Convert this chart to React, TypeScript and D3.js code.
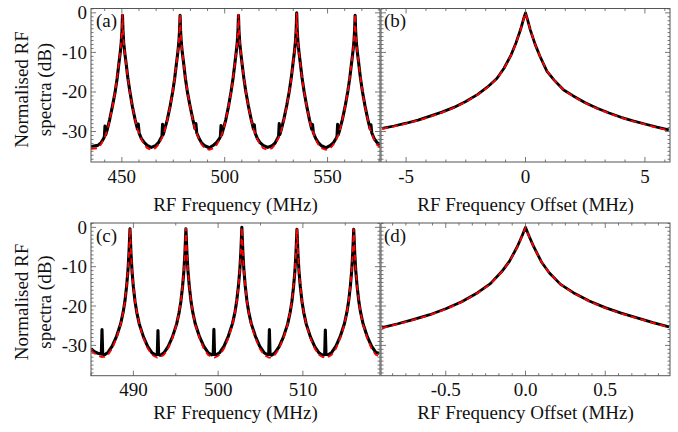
import React from "react";
import * as d3 from "d3";

// ---- panel (a): wide RF spectrum, MHz ----
const freqA = [
  435,
  438.3, 439.8, 441.1, 441.5, 441.8, 442.1, 442.8, 444.1, 445.5, 446.7, 447.7, 448.5, 449.2, 449.7, 450.05,
  450.3, 450.55, 450.9, 451.4, 452.1, 452.9, 453.9, 455.1, 456.5, 457.6, 458.0, 458.4, 459.5, 460.8, 462.3,
  464.3,
  466.3, 467.8, 469.1, 469.5, 469.8, 470.1, 470.8, 472.1, 473.5, 474.7, 475.7, 476.5, 477.2, 477.7, 478.05,
  478.3, 478.55, 478.9, 479.4, 480.1, 480.9, 481.9, 483.1, 484.5, 485.6, 486.0, 486.4, 487.5, 488.8, 490.3,
  492.5,
  494.7, 496.2, 497.5, 497.9, 498.2, 498.5, 499.2, 500.5, 501.9, 503.1, 504.1, 504.9, 505.6, 506.1, 506.45,
  506.7, 506.95, 507.3, 507.8, 508.5, 509.3, 510.3, 511.5, 512.9, 514.0, 514.4, 514.8, 515.9, 517.2, 518.7,
  520.9,
  523.0, 524.5, 525.8, 526.2, 526.5, 526.8, 527.5, 528.8, 530.2, 531.4, 532.4, 533.2, 533.9, 534.4, 534.75,
  535.0, 535.25, 535.6, 536.1, 536.8, 537.6, 538.6, 539.8, 541.2, 542.3, 542.7, 543.1, 544.2, 545.5, 547.0,
  549.2,
  551.4, 552.9, 554.2, 554.6, 554.9, 555.2, 555.9, 557.2, 558.6, 559.8, 560.8, 561.6, 562.3, 562.8, 563.15,
  563.4, 563.65, 564.0, 564.5, 565.2, 566.0, 567.0, 568.2, 569.6, 570.7, 571.1, 571.5, 572.6, 573.9,
  575.5,
];
const measA = [
  -33.8,
  -33.5, -32.9, -31.8, -31.3, -28.6, -30.9, -29.7, -26.9, -23.4, -20.1, -16.6, -13.1, -10.1, -7.4, -4.6,
  -0.6, -4.4, -7.6, -10.0, -12.9, -16.4, -19.9, -23.6, -27.1, -29.4, -28.1, -30.4, -31.8, -32.7, -33.5,
  -34.0,
  -33.6, -32.8, -31.6, -31.2, -28.2, -30.8, -29.5, -27.0, -23.5, -20.0, -16.5, -13.0, -10.0, -7.5, -4.5,
  -0.6, -4.5, -7.5, -10.1, -13.0, -16.6, -20.1, -23.4, -26.9, -29.3, -28.0, -30.3, -31.7, -32.9, -33.6,
  -34.1,
  -33.4, -32.7, -31.7, -31.3, -28.5, -30.9, -29.6, -27.1, -23.5, -19.9, -16.4, -13.0, -9.9, -7.5, -4.5,
  -0.6, -4.6, -7.4, -10.0, -13.1, -16.5, -20.0, -23.5, -27.0, -29.4, -28.3, -30.4, -31.8, -32.8, -33.5,
  -34.0,
  -33.6, -32.9, -31.6, -31.2, -28.0, -30.8, -29.5, -26.8, -23.3, -19.8, -16.3, -12.8, -9.8, -7.2, -4.2,
  0.0, -4.2, -7.3, -9.9, -12.9, -16.4, -19.9, -23.4, -27.0, -29.4, -28.2, -30.3, -31.7, -32.8, -33.6,
  -34.1,
  -33.5, -32.8, -31.7, -31.2, -28.2, -30.8, -29.6, -27.0, -23.5, -20.0, -16.5, -13.0, -10.0, -7.5, -4.5,
  -0.6, -4.5, -7.5, -10.0, -13.0, -16.5, -20.0, -23.5, -27.0, -29.3, -28.3, -30.3, -31.7, -32.7,
  -33.3,
];
const fitA = [
  -34.4,
  -34.2, -33.3, -32.0, -31.6, -31.2, -30.9, -29.8, -27.1, -23.6, -20.0, -16.5, -13.0, -10.0, -7.5, -4.3,
  -0.3, -4.3, -7.5, -10.0, -13.0, -16.5, -20.0, -23.6, -27.1, -29.5, -29.9, -30.4, -32.0, -33.3, -34.2,
  -34.6,
  -34.2, -33.3, -32.0, -31.6, -31.2, -30.9, -29.8, -27.1, -23.6, -20.0, -16.5, -13.0, -10.0, -7.5, -4.3,
  -0.3, -4.3, -7.5, -10.0, -13.0, -16.5, -20.0, -23.6, -27.1, -29.5, -29.9, -30.4, -32.0, -33.3, -34.2,
  -34.6,
  -34.2, -33.3, -32.0, -31.6, -31.2, -30.9, -29.8, -27.1, -23.6, -20.0, -16.5, -13.0, -10.0, -7.5, -4.3,
  -0.3, -4.3, -7.5, -10.0, -13.0, -16.5, -20.0, -23.6, -27.1, -29.5, -29.9, -30.4, -32.0, -33.3, -34.2,
  -34.6,
  -34.2, -33.3, -32.0, -31.6, -31.2, -30.9, -29.8, -27.1, -23.6, -20.0, -16.5, -13.0, -10.0, -7.5, -4.3,
  0.0, -4.3, -7.5, -10.0, -13.0, -16.5, -20.0, -23.6, -27.1, -29.5, -29.9, -30.4, -32.0, -33.3, -34.2,
  -34.6,
  -34.2, -33.3, -32.0, -31.6, -31.2, -30.9, -29.8, -27.1, -23.6, -20.0, -16.5, -13.0, -10.0, -7.5, -4.3,
  -0.3, -4.3, -7.5, -10.0, -13.0, -16.5, -20.0, -23.6, -27.1, -29.5, -29.9, -30.4, -32.0, -33.3,
  -33.9,
];

// ---- panel (b): single line, offset MHz ----
const freqB = [-6.0, -5.5, -5.0, -4.5, -4.0, -3.5, -3.0, -2.5, -2.0, -1.6, -1.2, -0.9, -0.6, -0.4, -0.2, -0.08, 0,
  0.08, 0.2, 0.4, 0.6, 0.9, 1.2, 1.6, 2.0, 2.5, 3.0, 3.5, 4.0, 4.5, 5.0, 5.5, 6.0];
const measB = [-29.2, -28.6, -27.9, -27.1, -26.1, -25.1, -23.9, -22.4, -20.6, -18.8, -16.6, -14.0, -10.6, -7.6, -4.1, -1.5, 0,
  -1.6, -4.3, -7.9, -10.9, -14.8, -17.0, -19.5, -21.0, -22.7, -24.1, -25.3, -26.4, -27.3, -28.1, -28.9, -29.6];
const fitB = [-29.3, -28.7, -28.0, -27.2, -26.3, -25.2, -24.0, -22.5, -20.7, -18.9, -16.6, -14.1, -10.7, -7.7, -4.2, -1.6, -0.1,
  -1.6, -4.3, -7.9, -10.9, -14.7, -17.0, -19.5, -21.1, -22.8, -24.2, -25.4, -26.5, -27.4, -28.2, -29.0, -29.7];

// ---- panel (c): narrow RF spectrum, MHz ----
const freqC = [
  485.0, 485.4, 485.8, 486.22, 486.3, 486.38,
  486.6, 487.0, 487.5, 488.0, 488.5, 488.8, 489.0, 489.2, 489.36, 489.48, 489.6, 489.72, 489.84, 490.0, 490.2, 490.4, 490.7, 491.2, 491.7, 492.2, 492.6,
  492.82, 492.9, 492.98,
  493.2, 493.6, 494.1, 494.6, 495.1, 495.4, 495.6, 495.8, 495.96, 496.08, 496.2, 496.32, 496.44, 496.6, 496.8, 497.0, 497.3, 497.8, 498.3, 498.8, 499.2,
  499.42, 499.5, 499.58,
  499.8, 500.2, 500.7, 501.2, 501.7, 502.0, 502.2, 502.4, 502.56, 502.68, 502.8, 502.92, 503.04, 503.2, 503.4, 503.6, 503.9, 504.4, 504.9, 505.4, 505.8,
  505.97, 506.05, 506.13,
  506.3, 506.7, 507.2, 507.7, 508.2, 508.5, 508.7, 508.9, 509.06, 509.18, 509.3, 509.42, 509.54, 509.7, 509.9, 510.1, 510.4, 510.9, 511.4, 511.9, 512.3,
  512.57, 512.65, 512.73,
  513.0, 513.4, 513.9, 514.4, 514.9, 515.2, 515.4, 515.6, 515.76, 515.88, 516.0, 516.12, 516.24, 516.4, 516.6, 516.8, 517.1, 517.6, 518.1, 518.6, 519.0,
];
const measC = [
  -30.8, -31.6, -32.0, -32.2, -26.0, -32.2,
  -32.4, -31.8, -30.2, -27.8, -24.5, -21.5, -18.8, -15.0, -11.0, -6.5, -0.4, -6.6, -11.1, -15.1, -18.9, -21.6, -24.6, -27.9, -30.3, -31.9, -32.4,
  -32.3, -26.2, -32.3,
  -32.5, -31.9, -30.3, -27.9, -24.6, -21.6, -18.9, -15.1, -11.1, -6.6, -0.4, -6.5, -11.0, -15.0, -18.8, -21.5, -24.5, -27.8, -30.2, -31.8, -32.4,
  -32.3, -25.9, -32.3,
  -32.4, -31.8, -30.2, -27.7, -24.4, -21.4, -18.6, -14.8, -10.8, -6.3, 0.0, -6.3, -10.8, -14.9, -18.7, -21.4, -24.4, -27.7, -30.2, -31.8, -32.4,
  -32.3, -26.0, -32.3,
  -32.5, -31.9, -30.3, -27.9, -24.6, -21.6, -18.9, -15.1, -11.1, -6.7, -0.5, -6.7, -11.1, -15.1, -18.9, -21.6, -24.6, -27.9, -30.3, -31.9, -32.5,
  -32.3, -26.1, -32.3,
  -32.4, -31.8, -30.2, -27.8, -24.5, -21.5, -18.8, -15.0, -11.0, -6.6, -0.5, -6.6, -11.0, -15.0, -18.8, -21.5, -24.5, -27.8, -30.2, -31.8, -32.0,
];
const fitC = [
  -31.3, -32.0, -32.6, -32.9, -33.0, -32.9,
  -32.9, -32.4, -30.8, -28.2, -24.7, -21.5, -18.8, -15.0, -11.0, -6.5, -0.2, -6.5, -11.0, -15.0, -18.8, -21.5, -24.7, -28.2, -30.8, -32.4, -32.9,
  -33.1, -33.1, -33.1,
  -32.9, -32.4, -30.8, -28.2, -24.7, -21.5, -18.8, -15.0, -11.0, -6.5, -0.2, -6.5, -11.0, -15.0, -18.8, -21.5, -24.7, -28.2, -30.8, -32.4, -32.9,
  -33.1, -33.1, -33.1,
  -32.9, -32.4, -30.8, -28.2, -24.7, -21.5, -18.8, -15.0, -11.0, -6.5, 0.0, -6.5, -11.0, -15.0, -18.8, -21.5, -24.7, -28.2, -30.8, -32.4, -32.9,
  -33.1, -33.1, -33.1,
  -32.9, -32.4, -30.8, -28.2, -24.7, -21.5, -18.8, -15.0, -11.0, -6.5, -0.3, -6.5, -11.0, -15.0, -18.8, -21.5, -24.7, -28.2, -30.8, -32.4, -32.9,
  -33.1, -33.1, -33.1,
  -32.9, -32.4, -30.8, -28.2, -24.7, -21.5, -18.8, -15.0, -11.0, -6.5, -0.3, -6.5, -11.0, -15.0, -18.8, -21.5, -24.7, -28.2, -30.8, -32.4, -32.7,
];

// ---- panel (d): single line, offset MHz ----
const freqD = [-0.9, -0.8, -0.7, -0.6, -0.5, -0.4, -0.3, -0.22, -0.15, -0.1, -0.05, -0.02, 0,
  0.02, 0.05, 0.1, 0.15, 0.22, 0.3, 0.4, 0.5, 0.6, 0.7, 0.8, 0.9];
const measD = [-25.5, -24.5, -23.4, -22.2, -20.7, -18.9, -16.6, -14.3, -11.3, -8.6, -4.8, -2.0, 0,
  -2.0, -4.8, -8.8, -11.6, -14.5, -16.6, -18.7, -20.4, -21.8, -23.0, -24.2, -25.3];
const fitD = [-25.6, -24.6, -23.5, -22.3, -20.8, -19.0, -16.7, -14.4, -11.4, -8.7, -4.9, -2.1, -0.1,
  -2.1, -4.9, -8.8, -11.6, -14.5, -16.7, -18.8, -20.5, -21.9, -23.1, -24.3, -25.4];

const yTicks = [0, -10, -20, -30];
const Y_DOMAIN = [-37.7, 1.1];
const FRAME = "#555";
const textStyle = { fontFamily: "Liberation Serif", fontSize: "19px" };

const panels = [
  { tag: "a", box: [91, 8.5, 380, 162], xDomain: [435, 575.5], xTicks: [450, 500, 550], minorBase: 450, minorStep: 50 / 6,
    fmt: (d: number) => String(d), xs: freqA, meas: measA, fit: fitA, title: "RF Frequency (MHz)", titleDy: 49, yLabels: true, lw: 3.1, labelDx: 5 },
  { tag: "b", box: [381, 8.5, 670, 162], xDomain: [-6.05, 6.05], xTicks: [-5, 0, 5], minorBase: 0, minorStep: 5 / 6,
    fmt: (d: number) => String(d), xs: freqB, meas: measB, fit: fitB, title: "RF Frequency Offset (MHz)", titleDy: 49, yLabels: false, lw: 2.8, labelDx: 3 },
  { tag: "c", box: [91, 223, 380, 375.7], xDomain: [485, 519.1], xTicks: [490, 500, 510], minorBase: 490, minorStep: 5,
    fmt: (d: number) => String(d), xs: freqC, meas: measC, fit: fitC, title: "RF Frequency (MHz)", titleDy: 43, yLabels: true, lw: 3.1, labelDx: 5 },
  { tag: "d", box: [381, 223, 670, 375.7], xDomain: [-0.906, 0.906], xTicks: [-0.5, 0, 0.5], minorBase: 0, minorStep: 0.5 / 6,
    fmt: (d: number) => d.toFixed(1), xs: freqD, meas: measD, fit: fitD, title: "RF Frequency Offset (MHz)", titleDy: 43, yLabels: false, lw: 2.8, labelDx: 3 },
];

function Panel({ p }: { p: any }) {
  const [x0, y0, x1, y1] = p.box;
  const x = d3.scaleLinear().domain(p.xDomain).range([x0, x1]);
  const y = d3.scaleLinear().domain(Y_DOMAIN).range([y1, y0]);
  const pts = p.xs.map((v: number, i: number) => [v, p.meas[i], p.fit[i]]);
  const lineMeas = d3.line<number[]>().x((d) => x(d[0])).y((d) => y(d[1]));
  const lineFit = d3.line<number[]>().x((d) => x(d[0])).y((d) => y(d[2]));
  const clipId = "clip-" + p.tag;

  const [d0, d1] = p.xDomain;
  const k0 = Math.ceil((d0 - p.minorBase) / p.minorStep - 1e-6);
  const k1 = Math.floor((d1 - p.minorBase) / p.minorStep + 1e-6);
  const xMinor = d3.range(k0, k1 + 1).map((k) => p.minorBase + k * p.minorStep);
  const yMinor = d3.range(-37, 2, 1);

  return (
    <g>
      <defs>
        <clipPath id={clipId}>
          <rect x={x0} y={y0 - 2} width={x1 - x0} height={y1 - y0 + 2} />
        </clipPath>
      </defs>
      <g clipPath={`url(#${clipId})`}>
        <path d={lineMeas(pts) || ""} fill="none" stroke="#000" strokeWidth={p.lw} strokeLinejoin="round" />
        <path d={lineFit(pts) || ""} fill="none" stroke="#ff0000" strokeWidth={1.8} strokeDasharray="6,4" />
      </g>
      <rect x={x0} y={y0} width={x1 - x0} height={y1 - y0} fill="none" stroke={FRAME} strokeWidth={1} />
      <g stroke={FRAME} strokeWidth={0.8}>
        {yMinor.map((v) => {
          const len = yTicks.includes(v) ? 5 : 2.5;
          return (
            <g key={"y" + v}>
              <line x1={x0} x2={x0 + len} y1={y(v)} y2={y(v)} />
              <line x1={x1} x2={x1 - len} y1={y(v)} y2={y(v)} />
            </g>
          );
        })}
        {xMinor.map((v, i) => {
          const len = p.xTicks.some((t: number) => Math.abs(t - v) < 1e-6) ? 5 : 2.5;
          return (
            <g key={"x" + i}>
              <line x1={x(v)} x2={x(v)} y1={y1} y2={y1 - len} />
              <line x1={x(v)} x2={x(v)} y1={y0} y2={y0 + len} />
            </g>
          );
        })}
      </g>
      <g fill="#111" style={textStyle}>
        {p.xTicks.map((t: number) => (
          <text key={"xl" + t} x={x(t)} y={y1 + 20.5} textAnchor="middle" style={textStyle}>{p.fmt(t)}</text>
        ))}
        {p.yLabels &&
          yTicks.map((t) => (
            <text key={"yl" + t} x={x0 - 4} y={y(t) + 6.5} textAnchor="end" style={textStyle}>{String(t)}</text>
          ))}
        <text x={(x0 + x1) / 2} y={y1 + p.titleDy} textAnchor="middle" style={textStyle}>{p.title}</text>
        <text x={x0 + p.labelDx} y={y0 + 18.5} style={textStyle}>{`(${p.tag})`}</text>
      </g>
    </g>
  );
}

export default function App() {
  return (
    <svg width={678} height={432} style={{ position: "absolute", left: 0, top: 0, background: "white", display: "block" }}>
      {panels.map((p) => (
        <Panel key={p.tag} p={p} />
      ))}
      {[89.5, 302].map((cy) => (
        <g key={cy} fill="#111">
          <text transform={`translate(28,${cy}) rotate(-90)`} textAnchor="middle" style={textStyle}>Normalised RF</text>
          <text transform={`translate(51,${cy}) rotate(-90)`} textAnchor="middle" style={textStyle}>spectra (dB)</text>
        </g>
      ))}
    </svg>
  );
}
